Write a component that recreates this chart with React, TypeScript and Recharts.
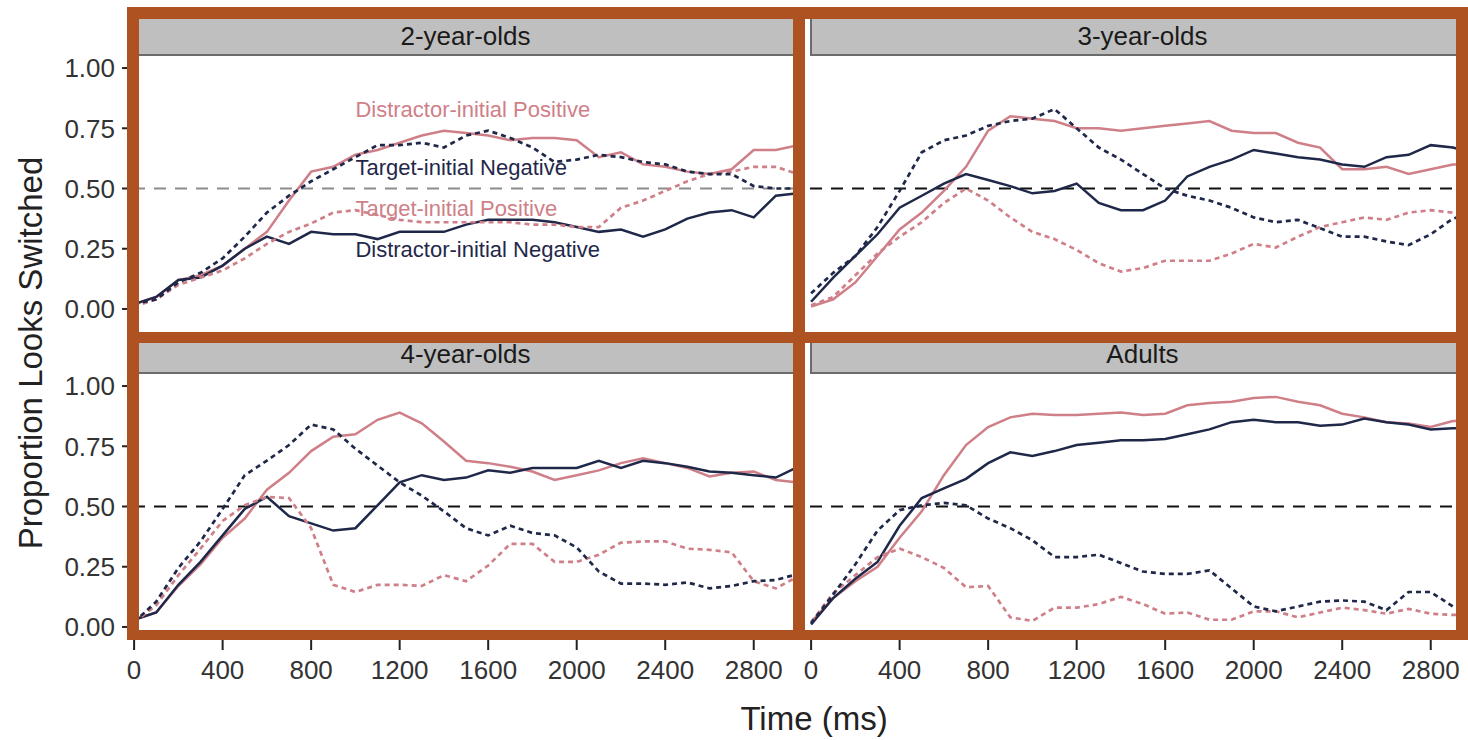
import React from "react";
import { LineChart, Line, XAxis, YAxis, ReferenceLine, ReferenceDot } from "recharts";

const times = [
  0, 100, 200, 300, 400, 500, 600, 700, 800, 900, 1000, 1100, 1200, 1300, 1400, 1500,
  1600, 1700, 1800, 1900, 2000, 2100, 2200, 2300, 2400, 2500, 2600, 2700, 2800, 2900, 3000,
]
const xTicks = [0, 400, 800, 1200, 1600, 2000, 2400, 2800]
const yTicks = [0, 0.25, 0.5, 0.75, 1]
const panelNames = ["2-year-olds", "3-year-olds", "4-year-olds", "Adults"]
const seriesNames = [
  "Distractor-initial Positive",
  "Target-initial Negative",
  "Target-initial Positive",
  "Distractor-initial Negative",
]

// 2-year-olds
const twoDP = [0.02, 0.05, 0.12, 0.14, 0.18, 0.25, 0.32, 0.45, 0.57, 0.59, 0.64, 0.66, 0.69, 0.72, 0.74, 0.73, 0.72, 0.7, 0.71, 0.71, 0.7, 0.63, 0.65, 0.6, 0.59, 0.57, 0.56, 0.58, 0.66, 0.66, 0.68]
const twoTN = [0.02, 0.04, 0.11, 0.15, 0.21, 0.3, 0.4, 0.47, 0.53, 0.58, 0.63, 0.68, 0.68, 0.69, 0.67, 0.72, 0.74, 0.71, 0.67, 0.61, 0.62, 0.64, 0.63, 0.61, 0.6, 0.57, 0.56, 0.56, 0.51, 0.5, 0.5]
const twoTP = [0.01, 0.04, 0.1, 0.13, 0.16, 0.21, 0.27, 0.32, 0.355, 0.4, 0.41, 0.39, 0.37, 0.36, 0.36, 0.36, 0.36, 0.36, 0.35, 0.35, 0.34, 0.34, 0.42, 0.45, 0.49, 0.53, 0.56, 0.57, 0.59, 0.59, 0.56]
const twoDN = [0.02, 0.05, 0.12, 0.13, 0.18, 0.25, 0.3, 0.27, 0.32, 0.31, 0.31, 0.29, 0.32, 0.32, 0.32, 0.35, 0.37, 0.37, 0.37, 0.36, 0.34, 0.32, 0.33, 0.3, 0.33, 0.375, 0.4, 0.41, 0.38, 0.47, 0.48]

// 3-year-olds
const threeDP = [0.01, 0.04, 0.11, 0.22, 0.33, 0.4, 0.49, 0.59, 0.74, 0.8, 0.79, 0.78, 0.75, 0.75, 0.74, 0.75, 0.76, 0.77, 0.78, 0.74, 0.73, 0.73, 0.69, 0.67, 0.58, 0.58, 0.59, 0.56, 0.58, 0.6, 0.6]
const threeTN = [0.065, 0.15, 0.22, 0.34, 0.49, 0.65, 0.7, 0.72, 0.76, 0.78, 0.79, 0.83, 0.75, 0.67, 0.62, 0.56, 0.5, 0.47, 0.45, 0.42, 0.38, 0.36, 0.37, 0.335, 0.3, 0.3, 0.28, 0.265, 0.31, 0.375, 0.4]
const threeTP = [0.015, 0.05, 0.14, 0.23, 0.3, 0.36, 0.44, 0.5, 0.45, 0.38, 0.32, 0.29, 0.245, 0.19, 0.155, 0.17, 0.2, 0.2, 0.2, 0.23, 0.27, 0.255, 0.3, 0.34, 0.36, 0.38, 0.37, 0.4, 0.41, 0.4, 0.4]
const threeDN = [0.03, 0.13, 0.22, 0.31, 0.42, 0.47, 0.52, 0.56, 0.535, 0.51, 0.48, 0.49, 0.52, 0.44, 0.41, 0.41, 0.45, 0.55, 0.59, 0.62, 0.66, 0.645, 0.63, 0.62, 0.6, 0.59, 0.63, 0.64, 0.68, 0.67, 0.645]

// 4-year-olds
const fourDP = [0.03, 0.06, 0.17, 0.26, 0.37, 0.45, 0.57, 0.64, 0.73, 0.79, 0.8, 0.86, 0.89, 0.845, 0.77, 0.69, 0.68, 0.665, 0.645, 0.61, 0.63, 0.65, 0.68, 0.7, 0.68, 0.66, 0.625, 0.64, 0.645, 0.61, 0.6]
const fourTN = [0.02, 0.105, 0.245, 0.355, 0.49, 0.63, 0.69, 0.755, 0.84, 0.82, 0.74, 0.67, 0.6, 0.545, 0.48, 0.41, 0.38, 0.42, 0.39, 0.38, 0.33, 0.23, 0.18, 0.18, 0.175, 0.185, 0.16, 0.17, 0.19, 0.195, 0.22]
const fourTP = [0.02, 0.09, 0.215, 0.325, 0.44, 0.505, 0.54, 0.535, 0.41, 0.175, 0.145, 0.175, 0.175, 0.17, 0.215, 0.19, 0.255, 0.345, 0.345, 0.27, 0.27, 0.3, 0.35, 0.355, 0.355, 0.325, 0.32, 0.31, 0.19, 0.16, 0.21]
const fourDN = [0.03, 0.06, 0.175, 0.27, 0.38, 0.49, 0.54, 0.46, 0.43, 0.4, 0.41, 0.505, 0.6, 0.63, 0.61, 0.62, 0.65, 0.64, 0.66, 0.66, 0.66, 0.69, 0.66, 0.69, 0.68, 0.665, 0.645, 0.64, 0.63, 0.62, 0.665]

// Adults
const adultDP = [0.02, 0.12, 0.19, 0.25, 0.37, 0.48, 0.63, 0.755, 0.83, 0.87, 0.885, 0.88, 0.88, 0.885, 0.89, 0.88, 0.885, 0.92, 0.93, 0.935, 0.95, 0.955, 0.935, 0.92, 0.885, 0.87, 0.85, 0.845, 0.83, 0.855, 0.855]
const adultTN = [0.015, 0.135, 0.26, 0.4, 0.485, 0.505, 0.515, 0.505, 0.45, 0.41, 0.36, 0.29, 0.29, 0.3, 0.265, 0.23, 0.22, 0.22, 0.235, 0.16, 0.085, 0.065, 0.085, 0.105, 0.11, 0.105, 0.07, 0.145, 0.145, 0.085, 0.07]
const adultTP = [0.02, 0.14, 0.215, 0.29, 0.325, 0.29, 0.245, 0.165, 0.17, 0.04, 0.025, 0.08, 0.08, 0.095, 0.125, 0.095, 0.055, 0.06, 0.03, 0.03, 0.065, 0.065, 0.04, 0.06, 0.08, 0.07, 0.055, 0.075, 0.055, 0.05, 0.05]
const adultDN = [0.01, 0.12, 0.2, 0.27, 0.42, 0.535, 0.575, 0.615, 0.68, 0.725, 0.71, 0.73, 0.755, 0.765, 0.775, 0.775, 0.78, 0.8, 0.82, 0.85, 0.86, 0.85, 0.85, 0.835, 0.84, 0.865, 0.85, 0.84, 0.82, 0.825, 0.825]

// where the series names sit in the 2-year-old panel (data coords, left aligned)
const labelX = 1000
const labelY = [0.83, 0.59, 0.42, 0.25]

const PINK = "#cf7f88"
const NAVY = "#1f2849"
const FRAME = "#ad5220"
const FONT = "'Liberation Sans', Arial, Helvetica, sans-serif"

const PLOT_W = 665
const PLOT_H = 265
const AXIS_W = 133
const XAXIS_H = 60
const PAD_L = 24 // room for the "0" tick of the right-hand panels
const PAD_V = 16 // room above/below so edge tick labels are not clipped

const makeRows = (dp: number[], tn: number[], tp: number[], dn: number[]) =>
  times.map((t, i) => ({ t, dp: dp[i], tn: tn[i], tp: tp[i], dn: dn[i] }))

const panels = [
  { name: panelNames[0], rows: makeRows(twoDP, twoTN, twoTP, twoDN), x: 133, y: 56, showY: true, showX: false, ref: "#8c8c8c", labels: true },
  { name: panelNames[1], rows: makeRows(threeDP, threeTN, threeTP, threeDN), x: 810, y: 56, showY: false, showX: false, ref: "#111", labels: false },
  { name: panelNames[2], rows: makeRows(fourDP, fourTN, fourTP, fourDN), x: 133, y: 374, showY: true, showX: true, ref: "#111", labels: false },
  { name: panelNames[3], rows: makeRows(adultDP, adultTN, adultTP, adultDN), x: 810, y: 374, showY: false, showX: true, ref: "#111", labels: false },
]

interface PanelProps {
  rows: { t: number; dp: number; tn: number; tp: number; dn: number }[]
  x: number
  y: number
  showY: boolean
  showX: boolean
  refStroke: string
  labels: boolean
}

function Panel({ rows, x, y, showY, showX, refStroke, labels }: PanelProps) {
  const axisW = showY ? AXIS_W : 0
  const padL = showY ? 0 : PAD_L
  const padB = showX ? 0 : PAD_V
  const width = axisW + padL + PLOT_W
  const height = PAD_V + PLOT_H + (showX ? XAXIS_H : 0) + padB
  const labelColors = [PINK, NAVY, PINK, NAVY]
  return (
    <div style={{ position: "absolute", left: x - axisW - padL, top: y - PAD_V, width, height }}>
      <LineChart
        width={width}
        height={height}
        data={rows}
        margin={{ top: PAD_V, right: 0, bottom: padB, left: padL }}
      >
        <XAxis
          dataKey="t"
          type="number"
          domain={[-5, 3000]}
          ticks={xTicks}
          interval={0}
          hide={!showX}
          height={XAXIS_H}
          tickSize={11}
          tickMargin={11}
          axisLine={false}
          tickLine={{ stroke: "#222", strokeWidth: 2 }}
          tick={{ fontSize: 26, fill: "#333" }}
          allowDataOverflow
        />
        <YAxis
          type="number"
          domain={[-0.05, 1.05]}
          ticks={yTicks}
          interval={0}
          hide={!showY}
          width={AXIS_W}
          tickSize={11}
          tickMargin={7}
          axisLine={false}
          tickLine={{ stroke: "#222", strokeWidth: 2 }}
          tick={{ fontSize: 26, fill: "#333" }}
          tickFormatter={(v: number) => v.toFixed(2)}
          allowDataOverflow
        />
        <ReferenceLine y={0.5} stroke={refStroke} strokeDasharray="12 9" strokeWidth={1.8} />
        <Line dataKey="dp" stroke={PINK} strokeWidth={2.5} dot={false} isAnimationActive={false} />
        <Line dataKey="dn" stroke={NAVY} strokeWidth={2.5} dot={false} isAnimationActive={false} />
        <Line dataKey="tp" stroke={PINK} strokeWidth={2.7} strokeDasharray="5 4" dot={false} isAnimationActive={false} />
        <Line dataKey="tn" stroke={NAVY} strokeWidth={2.7} strokeDasharray="5 4" dot={false} isAnimationActive={false} />
        {labels &&
          seriesNames.map((s, i) => (
            <ReferenceDot
              key={s}
              x={labelX}
              y={labelY[i]}
              r={0}
              fill="none"
              stroke="none"
              label={{ value: s, position: "right", offset: 0, fill: labelColors[i], fontSize: 22 }}
            />
          ))}
      </LineChart>
    </div>
  )
}

export default function App() {
  return (
    <div
      style={{
        position: "absolute",
        left: 0,
        top: 0,
        width: 1468,
        height: 740,
        overflow: "hidden",
        background: "#fff",
        fontFamily: FONT,
      }}
    >
      {panels.map((p) => (
        <Panel
          key={p.name}
          rows={p.rows}
          x={p.x}
          y={p.y}
          showY={p.showY}
          showX={p.showX}
          refStroke={p.ref}
          labels={p.labels}
        />
      ))}
      {panels.map((p) => (
        <div
          key={p.name + "-strip"}
          style={{
            position: "absolute",
            left: p.x,
            top: p.y - 39,
            width: PLOT_W,
            height: 39,
            boxSizing: "border-box",
            background: "#bfbfbf",
            border: "2px solid #6b6b6b",
            fontSize: 26,
            color: "#1a1a1a",
            textAlign: "center",
            lineHeight: "35px",
          }}
        >
          {p.name}
        </div>
      ))}
      <svg
        width={1468}
        height={740}
        style={{ position: "absolute", left: 0, top: 0, pointerEvents: "none" }}
      >
        <rect x={127} y={7} width={12} height={633} fill={FRAME} />
        <rect x={127} y={7} width={1341} height={12} fill={FRAME} />
        <rect x={1456} y={7} width={12} height={633} fill={FRAME} />
        <rect x={127} y={630} width={1341} height={10} fill={FRAME} />
        <rect x={793} y={7} width={12} height={633} fill={FRAME} />
        <rect x={127} y={332} width={1341} height={11} fill={FRAME} />
        <text x={814} y={730} textAnchor="middle" fontSize={33} fill="#222">
          Time (ms)
        </text>
        <text
          x={0}
          y={0}
          transform="translate(42 353) rotate(-90)"
          textAnchor="middle"
          fontSize={33}
          fill="#222"
        >
          Proportion Looks Switched
        </text>
      </svg>
    </div>
  )
}
